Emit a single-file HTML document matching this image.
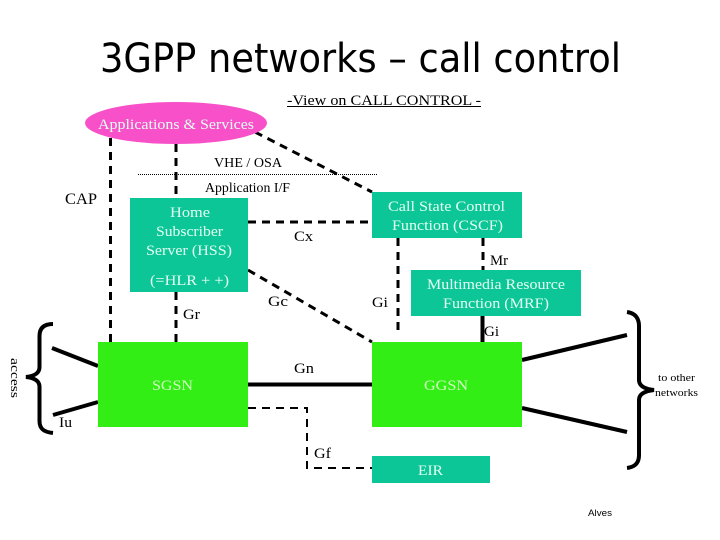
<!DOCTYPE html>
<html>
<head>
<meta charset="utf-8">
<style>
html,body{margin:0;padding:0;background:#fff}
svg{display:block}
text{font-family:"Liberation Serif",serif;font-size:15px;fill:#000}
.w{fill:#E4FFF2}
.g{fill:#CFFFC0}
</style>
</head>
<body>
<svg width="720" height="540" viewBox="0 0 720 540" xmlns="http://www.w3.org/2000/svg">
<rect width="720" height="540" fill="#fff"/>

<text x="100" y="72" textLength="521" lengthAdjust="spacingAndGlyphs" style="font-family:'DejaVu Sans',sans-serif;font-size:40px">3GPP networks – call control</text>

<text x="287" y="105" textLength="194" lengthAdjust="spacingAndGlyphs">-View on CALL CONTROL -</text>
<line x1="287" y1="106.500" x2="481" y2="106.500" stroke="#000" stroke-width="1"/>

<line x1="138" y1="174.500" x2="378" y2="174.500" stroke="#000" stroke-width="1" stroke-dasharray="1 1"/>

<g fill="none" stroke="#000" stroke-width="3" stroke-dasharray="8 6">
<line x1="110.500" y1="138" x2="110.500" y2="342"/>
<line x1="176" y1="144" x2="176" y2="198"/>
<line x1="176" y1="292" x2="176" y2="342"/>
<line x1="255" y1="132" x2="372" y2="192"/>
<line x1="248" y1="222" x2="372" y2="222"/>
<line x1="248" y1="270" x2="372" y2="342"/>
<line x1="398" y1="238" x2="398" y2="336"/>
<line x1="483" y1="238" x2="483" y2="270"/>
<polyline points="248,408 307,408 307,468 372,468" stroke-width="2"/>
</g>

<g fill="none" stroke="#000" stroke-width="4">
<line x1="482.500" y1="316" x2="482.500" y2="342"/>
<line x1="248" y1="384.500" x2="372" y2="384.500"/>
<line x1="52" y1="348" x2="98" y2="366"/>
<line x1="53" y1="415" x2="98" y2="402"/>
<line x1="522" y1="360" x2="627" y2="335"/>
<line x1="522" y1="408" x2="627" y2="432"/>
<path d="M53,324 C44,324 39.500,328 39.500,336 L39.500,367 C39.500,373 35,376 26,377 C35,378 39.500,381 39.500,387 L39.500,421 C39.500,429 44,432 53,433"/>
<path d="M627,312 C635,313 639,318 639,326 L639,380 C639,386 645,389 654,390 C645,391 639,394 639,400 L639,455 C639,463 635,467 627,468"/>
</g>

<ellipse cx="176" cy="123" rx="91" ry="21" fill="#F850C8"/>
<rect x="130" y="198" width="118" height="94" fill="#0CC697"/>
<rect x="372" y="192" width="150" height="46" fill="#0CC697"/>
<rect x="411" y="270" width="170" height="46" fill="#0CC697"/>
<rect x="372" y="456" width="118" height="27" fill="#0CC697"/>
<rect x="98" y="342" width="150" height="85" fill="#33EE14"/>
<rect x="372" y="342" width="150" height="85" fill="#33EE14"/>

<text class="w" x="98" y="129" textLength="156" lengthAdjust="spacingAndGlyphs">Applications &amp; Services</text>
<text class="w" x="170" y="217" textLength="40" lengthAdjust="spacingAndGlyphs">Home</text>
<text class="w" x="156" y="236" textLength="67" lengthAdjust="spacingAndGlyphs">Subscriber</text>
<text class="w" x="146" y="255" textLength="86" lengthAdjust="spacingAndGlyphs">Server (HSS)</text>
<text class="w" x="150" y="285" textLength="79" lengthAdjust="spacingAndGlyphs">(=HLR + +)</text>
<text class="w" x="388" y="211" textLength="117" lengthAdjust="spacingAndGlyphs">Call State Control</text>
<text class="w" x="392" y="230" textLength="111" lengthAdjust="spacingAndGlyphs">Function (CSCF)</text>
<text class="w" x="427" y="289" textLength="138" lengthAdjust="spacingAndGlyphs">Multimedia Resource</text>
<text class="w" x="443" y="308" textLength="106" lengthAdjust="spacingAndGlyphs">Function (MRF)</text>
<text class="g" x="152" y="390" textLength="41" lengthAdjust="spacingAndGlyphs">SGSN</text>
<text class="g" x="424" y="390" textLength="44" lengthAdjust="spacingAndGlyphs">GGSN</text>
<text class="w" x="418" y="475" textLength="25" lengthAdjust="spacingAndGlyphs">EIR</text>

<text x="214" y="167" textLength="68" lengthAdjust="spacingAndGlyphs" style="font-size:14px">VHE / OSA</text>
<text x="205" y="192" textLength="85" lengthAdjust="spacingAndGlyphs" style="font-size:14px">Application I/F</text>
<text x="65" y="204" textLength="32" lengthAdjust="spacingAndGlyphs" style="font-size:16px">CAP</text>
<text x="294" y="241" textLength="19" lengthAdjust="spacingAndGlyphs">Cx</text>
<text x="490" y="265" textLength="18" lengthAdjust="spacingAndGlyphs">Mr</text>
<text x="372" y="307" textLength="16" lengthAdjust="spacingAndGlyphs">Gi</text>
<text x="268" y="306" textLength="20" lengthAdjust="spacingAndGlyphs">Gc</text>
<text x="183" y="319" textLength="17" lengthAdjust="spacingAndGlyphs">Gr</text>
<text x="484" y="336" textLength="15" lengthAdjust="spacingAndGlyphs">Gi</text>
<text x="294" y="373" textLength="20" lengthAdjust="spacingAndGlyphs">Gn</text>
<text x="59" y="427" textLength="13" lengthAdjust="spacingAndGlyphs">Iu</text>
<text x="314" y="458" textLength="17" lengthAdjust="spacingAndGlyphs">Gf</text>
<text x="658" y="381" textLength="37" lengthAdjust="spacingAndGlyphs" style="font-size:11px">to other</text>
<text x="655" y="396" textLength="43" lengthAdjust="spacingAndGlyphs" style="font-size:11px">networks</text>
<text x="588" y="516" textLength="24" lengthAdjust="spacingAndGlyphs" style="font-family:'Liberation Sans',sans-serif;font-size:9px">Alves</text>
<text transform="translate(11,358) rotate(90)" textLength="40" lengthAdjust="spacingAndGlyphs" style="font-size:13px">access</text>
</svg>
</body>
</html>
